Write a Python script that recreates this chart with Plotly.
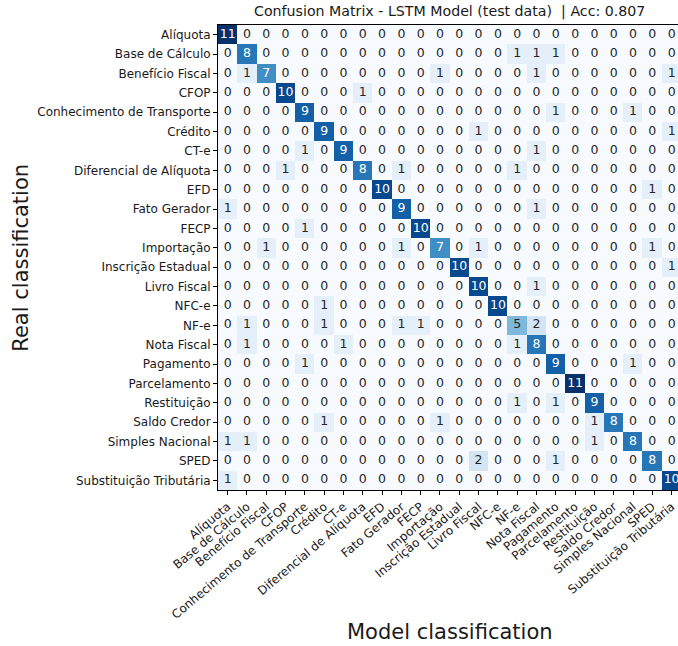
import plotly.graph_objects as go

labels = ["Alíquota", "Base de Cálculo", "Benefício Fiscal", "CFOP",
          "Conhecimento de Transporte", "Crédito", "CT-e", "Diferencial de Alíquota",
          "EFD", "Fato Gerador", "FECP", "Importação", "Inscrição Estadual",
          "Livro Fiscal", "NFC-e", "NF-e", "Nota Fiscal", "Pagamento",
          "Parcelamento", "Restituição", "Saldo Credor", "Simples Nacional",
          "SPED", "Substituição Tributária"]

# rows = real class, columns = predicted class
matrix = [
    [11,0,0,0,0,0,0,0,0,0,0,0,0,0,0,0,0,0,0,0,0,0,0,0],
    [0,8,0,0,0,0,0,0,0,0,0,0,0,0,0,1,1,1,0,0,0,0,0,0],
    [0,1,7,0,0,0,0,0,0,0,0,1,0,0,0,0,1,0,0,0,0,0,0,1],
    [0,0,0,10,0,0,0,1,0,0,0,0,0,0,0,0,0,0,0,0,0,0,0,0],
    [0,0,0,0,9,0,0,0,0,0,0,0,0,0,0,0,0,1,0,0,0,1,0,0],
    [0,0,0,0,0,9,0,0,0,0,0,0,0,1,0,0,0,0,0,0,0,0,0,1],
    [0,0,0,0,1,0,9,0,0,0,0,0,0,0,0,0,1,0,0,0,0,0,0,0],
    [0,0,0,1,0,0,0,8,0,1,0,0,0,0,0,1,0,0,0,0,0,0,0,0],
    [0,0,0,0,0,0,0,0,10,0,0,0,0,0,0,0,0,0,0,0,0,0,1,0],
    [1,0,0,0,0,0,0,0,0,9,0,0,0,0,0,0,1,0,0,0,0,0,0,0],
    [0,0,0,0,1,0,0,0,0,0,10,0,0,0,0,0,0,0,0,0,0,0,0,0],
    [0,0,1,0,0,0,0,0,0,1,0,7,0,1,0,0,0,0,0,0,0,0,1,0],
    [0,0,0,0,0,0,0,0,0,0,0,0,10,0,0,0,0,0,0,0,0,0,0,1],
    [0,0,0,0,0,0,0,0,0,0,0,0,0,10,0,0,1,0,0,0,0,0,0,0],
    [0,0,0,0,0,1,0,0,0,0,0,0,0,0,10,0,0,0,0,0,0,0,0,0],
    [0,1,0,0,0,1,0,0,0,1,1,0,0,0,0,5,2,0,0,0,0,0,0,0],
    [0,1,0,0,0,0,1,0,0,0,0,0,0,0,0,1,8,0,0,0,0,0,0,0],
    [0,0,0,0,1,0,0,0,0,0,0,0,0,0,0,0,0,9,0,0,0,1,0,0],
    [0,0,0,0,0,0,0,0,0,0,0,0,0,0,0,0,0,0,11,0,0,0,0,0],
    [0,0,0,0,0,0,0,0,0,0,0,0,0,0,0,1,0,1,0,9,0,0,0,0],
    [0,0,0,0,0,1,0,0,0,0,0,1,0,0,0,0,0,0,0,1,8,0,0,0],
    [1,1,0,0,0,0,0,0,0,0,0,0,0,0,0,0,0,0,0,1,0,8,0,0],
    [0,0,0,0,0,0,0,0,0,0,0,0,0,2,0,0,0,1,0,0,0,0,8,0],
    [1,0,0,0,0,0,0,0,0,0,0,0,0,0,0,0,0,0,0,0,0,0,0,10],
]

accuracy = 0.807
title_text = f"Confusion Matrix - LSTM Model (test data)  | Acc: {accuracy:.3f}"

blues = ['rgb(247,251,255)', 'rgb(222,235,247)', 'rgb(198,219,239)',
         'rgb(158,202,225)', 'rgb(107,174,214)', 'rgb(66,146,198)',
         'rgb(33,113,181)', 'rgb(8,81,156)', 'rgb(8,48,107)']
colorscale = [[i / (len(blues) - 1), c] for i, c in enumerate(blues)]

vmax = max(max(r) for r in matrix)
thresh = vmax / 2.0

fig = go.Figure()
fig.add_trace(go.Heatmap(
    z=matrix, x=labels, y=labels, colorscale=colorscale,
    zmin=0, zmax=vmax, showscale=False, hoverinfo="skip", xgap=0, ygap=0,
))

tx, ty, tt, tc = [], [], [], []
for i, row in enumerate(matrix):
    for j, v in enumerate(row):
        tx.append(labels[j]); ty.append(labels[i]); tt.append(str(v))
        tc.append("white" if v > thresh else "#262626")
fig.add_trace(go.Scatter(
    x=tx, y=ty, text=tt, mode="text",
    textfont=dict(family="DejaVu Sans", size=12.5, color=tc),
    textposition="middle center", hoverinfo="skip", showlegend=False,
    cliponaxis=True,
))

font = "DejaVu Sans"
fig.update_layout(
    width=678, height=646,
    margin=dict(l=218, r=0, t=25, b=156, pad=0),
    paper_bgcolor="white", plot_bgcolor="white",
    font=dict(family=font, size=12, color="#1a1a1a"),
    showlegend=False,
    xaxis=dict(
        range=[-0.5, 23.33], tickangle=-40, ticks="outside", ticklen=4,
        tickwidth=1, tickcolor="black", showline=True, linecolor="black",
        linewidth=1, mirror=True, showgrid=False, zeroline=False,
        tickfont=dict(family=font, size=12), fixedrange=True,
    ),
    yaxis=dict(
        range=[23.5, -0.5], ticks="outside", ticklen=4, tickwidth=1,
        tickcolor="black", showline=True, linecolor="black", linewidth=1,
        showgrid=False, zeroline=False, tickfont=dict(family=font, size=12),
        fixedrange=True,
    ),
    annotations=[
        dict(text=title_text, xref="paper", yref="paper", x=0.504, y=1.0,
             yshift=3, xanchor="center", yanchor="bottom", showarrow=False,
             font=dict(family=font, size=14.2)),
        dict(text="Model classification", xref="paper", yref="paper",
             x=0.504, y=-0.305, xanchor="center", yanchor="middle",
             showarrow=False, font=dict(family=font, size=21)),
        dict(text="Real classification", xref="paper", yref="paper",
             x=-0.43, y=0.5, xanchor="center", yanchor="middle", textangle=-90,
             showarrow=False, font=dict(family=font, size=21)),
    ],
)

fig.write_html("out.html", config={"displayModeBar": False},
               post_script="document.body.style.margin='0';document.body.style.padding='0';")
